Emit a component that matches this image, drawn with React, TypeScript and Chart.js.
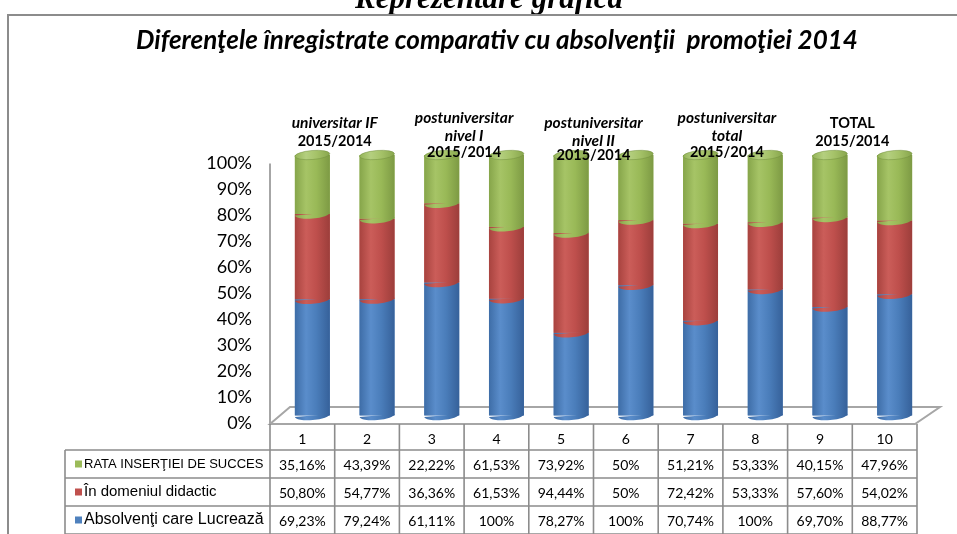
import React, { useEffect, useRef } from "react";
import { Chart, registerables } from "chart.js";

Chart.register(...registerables);

// ---------------- data ----------------
const categories = ["1", "2", "3", "4", "5", "6", "7", "8", "9", "10"];
const seriesNames = ["Absolvenţi care Lucrează", "În domeniul didactic", "RATA INSERŢIEI DE SUCCES"];
const absolventiLucreaza = [69.23, 79.24, 61.11, 100, 78.27, 100, 70.74, 100, 69.7, 88.77];
const domeniulDidactic = [50.8, 54.77, 36.36, 61.53, 94.44, 50, 72.42, 53.33, 57.6, 54.02];
const rataInsertiei = [35.16, 43.39, 22.22, 61.53, 73.92, 50, 51.21, 53.33, 40.15, 47.96];
const yTickValues = [0, 10, 20, 30, 40, 50, 60, 70, 80, 90, 100];
const groupTexts = [
  ["universitar IF", "2015/2014"],
  ["postuniversitar", "nivel I", "2015/2014"],
  ["postuniversitar", "nivel II", "2015/2014"],
  ["postuniversitar", "total", "2015/2014"],
  ["TOTAL", "2015/2014"],
];
const HEADING = "Reprezentare grafică";
const TITLE = "Diferenţele înregistrate comparativ cu absolvenţii  promoţiei 2014";

// ---------------- styles ----------------
const groupItalic = [
  [true, false],
  [true, true, false],
  [true, true, false],
  [true, true, false],
  [false, false],
];
const groupLineY = [
  [123, 141],
  [118, 136, 152],
  [123, 141, 155],
  [118, 136, 152],
  [123, 141],
];
const groupDX = [0, 0, 0, 4, 0];
const baseColors = ["#4f81bd", "#c0504d", "#9bbb59"];
const gradStops = [
  ["#3e6da7", "#5a8dcb", "#4a7dba", "#36619a"],
  ["#a8433f", "#cb5d59", "#be4f4c", "#9c3e3b"],
  ["#86a54a", "#a6c466", "#99b957", "#7d9a44"],
];
const capStops = ["#94b457", "#b4cf7f", "#a5c268", "#88a64d"];
const DX = 10;
const DY = 8.5;
const LINE = "#8c8c8c";

const totals = categories.map((_, i) => absolventiLucreaza[i] + domeniulDidactic[i] + rataInsertiei[i]);
const share = (arr: number[]) => arr.map((v, i) => (v / totals[i]) * 100);
const fmt = (v: number) => (Number.isInteger(v) ? `${v}%` : `${v.toFixed(2).replace(".", ",")}%`);

function makeGrad(ctx: CanvasRenderingContext2D, l: number, r: number, stops: string[]) {
  const g = ctx.createLinearGradient(l, 0, r, 0);
  g.addColorStop(0, stops[0]);
  g.addColorStop(0.32, stops[1]);
  g.addColorStop(0.62, stops[2]);
  g.addColorStop(1, stops[3]);
  return g;
}

const floorPlugin = {
  id: "floor3d",
  beforeDatasetsDraw(chart: any) {
    const { ctx, chartArea } = chart;
    const ys = chart.scales.y;
    const y0 = ys.getPixelForValue(0);
    const y100 = ys.getPixelForValue(100);
    ctx.save();
    ctx.strokeStyle = "#a6a6a6";
    ctx.lineWidth = 2;
    ctx.beginPath();
    ctx.moveTo(chartArea.left - DX, y0 + DY);
    ctx.lineTo(chartArea.left + DX, y0 - DY);
    ctx.lineTo(chartArea.right + DX + 3, y0 - DY);
    ctx.lineTo(chartArea.right - DX - 2, y0 + DY);
    ctx.closePath();
    ctx.stroke();
    ctx.beginPath();
    ctx.moveTo(chartArea.left - DX, y100 + DY);
    ctx.lineTo(chartArea.left - DX, y0 + DY);
    ctx.stroke();
    ctx.restore();
  },
};

const cylinderPlugin = {
  id: "cylinders",
  afterDatasetsDraw(chart: any) {
    const { ctx } = chart;
    const n = chart.data.datasets.length;
    ctx.save();
    for (let d = 0; d < n; d++) {
      const meta = chart.getDatasetMeta(d);
      meta.data.forEach((el: any) => {
        const { x, y, base, width } = el.getProps(["x", "y", "base", "width"], true);
        const l = x - width / 2;
        const r = x + width / 2;
        const top = Math.min(y, base);
        const bot = Math.max(y, base);
        const g = makeGrad(ctx, l, r, gradStops[d]);
        ctx.fillStyle = g;
        ctx.fillRect(l, top, width, bot - top);
        ctx.beginPath();
        ctx.ellipse(x, bot, width / 2, 4.5, -0.08, 0, Math.PI);
        ctx.closePath();
        ctx.fill();
        if (d === n - 1) {
          ctx.beginPath();
          ctx.ellipse(x, top, width / 2, 4.5, -0.08, 0, Math.PI * 2);
          ctx.fillStyle = makeGrad(ctx, l, r, capStops);
          ctx.fill();
          ctx.strokeStyle = "rgba(110,140,60,0.6)";
          ctx.lineWidth = 0.8;
          ctx.stroke();
        }
      });
    }
    ctx.restore();
  },
};

const decorPlugin = {
  id: "decor",
  afterDraw(chart: any) {
    const { ctx, chartArea } = chart;
    const ys = chart.scales.y;
    const xs = chart.scales.x;
    const y0 = ys.getPixelForValue(0);
    const colW = (chartArea.right - chartArea.left) / categories.length;
    const tLeft = chartArea.left - DX;
    const frontY = y0 + DY;
    const headBottom = frontY + 26;
    const rowH = 28;
    const tableRight = tLeft + colW * categories.length;
    const legendLeft = 65;
    ctx.save();

    // heading, frame, title
    ctx.fillStyle = "#000";
    ctx.font = "italic bold 31px 'Liberation Serif'";
    ctx.textAlign = "center";
    ctx.textBaseline = "alphabetic";
    ctx.fillText(HEADING, 489, 8);
    ctx.strokeStyle = LINE;
    ctx.lineWidth = 2;
    ctx.beginPath();
    ctx.moveTo(8, 540);
    ctx.lineTo(8, 15);
    ctx.lineTo(960, 15);
    ctx.stroke();
    ctx.font = "italic bold 26px Lato";
    ctx.textBaseline = "middle";
    ctx.fillText(TITLE, 497, 41);

    // table grid
    ctx.strokeStyle = LINE;
    ctx.lineWidth = 1.6;
    ctx.beginPath();
    for (let i = 0; i <= categories.length; i++) {
      const x = tLeft + i * colW;
      ctx.moveTo(x, frontY);
      ctx.lineTo(x, headBottom + rowH * 3);
    }
    ctx.moveTo(legendLeft, headBottom);
    ctx.lineTo(legendLeft, headBottom + rowH * 3);
    for (let r = 0; r <= 3; r++) {
      const y = headBottom + r * rowH;
      ctx.moveTo(legendLeft, y);
      ctx.lineTo(tableRight, y);
    }
    ctx.stroke();

    // rows: top row is last dataset
    const n = chart.data.datasets.length;
    const legendFonts = [16, 15, 13];
    for (let r = 0; r < n; r++) {
      const d = n - 1 - r;
      const ds = chart.data.datasets[d];
      const cy = headBottom + r * rowH + rowH / 2;
      ctx.fillStyle = baseColors[d];
      ctx.fillRect(75, cy - 3.5, 7, 7);
      ctx.fillStyle = "#000";
      ctx.textAlign = "left";
      ctx.textBaseline = "middle";
      ctx.font = `${legendFonts[d]}px 'Liberation Sans'`;
      ctx.fillText(ds.label, 84, cy);
      ctx.font = "14px Lato";
      ctx.textAlign = "center";
      const raw = ds.rawValues as number[];
      raw.forEach((v, i) => {
        ctx.fillText(fmt(v), tLeft + (i + 0.5) * colW, cy + 1);
      });
    }

    // group labels
    ctx.textAlign = "center";
    ctx.textBaseline = "middle";
    groupTexts.forEach((lines, gi) => {
      const cx = (xs.getPixelForValue(gi * 2) + xs.getPixelForValue(gi * 2 + 1)) / 2 - DX + groupDX[gi];
      lines.forEach((t, li) => {
        const it = groupItalic[gi][li];
        ctx.font = it ? "italic bold 15.5px Lato" : "bold 14.5px Lato";
        ctx.fillText(t, cx, groupLineY[gi][li]);
      });
    });
    ctx.restore();
  },
};

export default function App() {
  const ref = useRef<HTMLCanvasElement | null>(null);
  useEffect(() => {
    if (!ref.current) return;
    const series = [absolventiLucreaza, domeniulDidactic, rataInsertiei];
    const chart = new Chart(ref.current, {
      type: "bar",
      data: {
        labels: categories,
        datasets: series.map((arr, i) => ({
          label: seriesNames[i],
          data: share(arr),
          rawValues: arr,
          backgroundColor: baseColors[i],
          borderWidth: 0,
          barPercentage: 0.54,
          categoryPercentage: 1,
        })) as any,
      },
      options: {
        animation: false,
        responsive: false,
        layout: { padding: { left: 0, right: 30, top: 155, bottom: 0 } },
        plugins: {
          legend: { display: false },
          tooltip: { enabled: false },
          title: { display: false },
        },
        scales: {
          x: {
            stacked: true,
            grid: { display: false, drawTicks: false },
            border: { display: false },
            ticks: { padding: 16, labelOffset: -DX, color: "#000", font: { family: "Lato", size: 14 } },
            afterFit: (s: any) => {
              s.height = 118.5;
            },
          },
          y: {
            stacked: true,
            min: 0,
            max: 100,
            grid: { display: false, drawTicks: false },
            border: { display: false },
            afterBuildTicks: (s: any) => {
              s.ticks = yTickValues.map((v) => ({ value: v }));
            },
            ticks: {
              padding: 28,
              labelOffset: 8,
              autoSkip: false,
              color: "#000",
              font: { family: "Lato", size: 18 },
              callback: (v: any) => `${v}%`,
            },
            afterFit: (s: any) => {
              s.width = 280;
            },
          },
        },
      } as any,
      plugins: [floorPlugin, cylinderPlugin, decorPlugin],
    });
    return () => chart.destroy();
  }, []);
  return (
    <div style={{ position: "fixed", left: 0, top: 0, width: 957, height: 534, background: "#fff" }}>
      <canvas ref={ref} width={957} height={534} style={{ display: "block" }} />
    </div>
  );
}
